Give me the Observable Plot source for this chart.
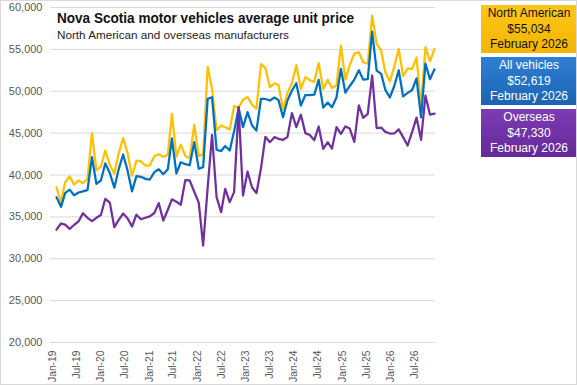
<!DOCTYPE html>
<html><head><meta charset="utf-8">
<script src="https://cdn.jsdelivr.net/npm/d3@7"></script>
<script src="https://cdn.jsdelivr.net/npm/@observablehq/plot@0.6"></script>
<style>
body{margin:0;background:#fff}
#chart{position:relative;width:577px;height:385px;overflow:hidden;background:#fff;font-family:"Liberation Sans",Arial,sans-serif;}
#chart svg{position:absolute;left:0;top:0}
#frame{position:absolute;left:0;top:0;width:577px;height:385px;box-sizing:border-box;border:1px solid #d9d9d9;pointer-events:none}
#title{position:absolute;left:57px;top:9px;font-family:"Liberation Sans",Arial,sans-serif;font-weight:bold;font-size:15.5px;color:#111;white-space:nowrap;line-height:18px;transform-origin:0 0;display:inline-block}
#subtitle{position:absolute;left:57px;top:28px;font-size:11.7px;color:#222;white-space:nowrap;line-height:13px}
.box{position:absolute;left:481px;width:96px;height:48px;text-align:center;font-size:12px;line-height:15.5px;box-sizing:border-box;padding-top:1px}
</style></head><body>
<div id="chart"></div>
<script>
// ---- data (monthly, Jan 2019 to Feb 2026) ----
const firstMonth = "2019-01-01";
const lastMonth = "2026-02-01";
const northAmerican = [38540,36750,39140,39840,38850,39340,39020,39540,45000,40580,41000,42930,41200,40140,42530,44400,42630,39900,41730,41630,41130,41150,
42230,42490,42170,42430,47300,42200,43620,42270,42010,45990,42250,42500,52900,50290,45350,45910,45700,45420,48240,48060,49000,49300,48400,47900,
53230,52770,50490,50950,50750,47840,49790,50990,53110,50290,51690,51320,51120,53350,50250,51380,50390,50690,55460,51380,53150,54510,54670,53470,53280,
59040,55660,54870,52270,51180,52880,55060,51800,52730,52650,54050,48240,55260,53600,55034];
const allVehicles = [37350,36200,37830,38250,37590,37910,38050,38190,42130,38950,39340,41380,40240,38490,40640,42450,40580,38050,39860,39780,39540,39460,
40340,40680,40100,40680,44360,40180,41530,41290,41170,43920,40740,40940,49090,49290,43020,42860,43460,42920,45210,48000,45710,47500,45910,45310,
49090,49080,48890,49250,48940,46900,48890,50090,50950,48300,49550,49550,49590,51370,48060,48640,48100,49250,52680,49830,50630,51390,52510,51390,51450,
57110,52470,52080,50190,49250,50600,52510,49380,49800,50150,51540,46870,53290,51440,52619];
const overseas = [33470,34210,34070,33570,34030,34460,35440,34890,34490,34890,35220,37160,36700,33770,34610,35400,34830,33850,35260,34710,34890,35060,
35460,36640,34570,35850,37100,36800,36450,39400,39350,38000,36700,31580,38500,44780,37350,35560,38350,36760,37950,48100,37550,40400,38500,37830,
40800,44560,43920,44520,44320,44200,44520,47400,45710,47200,45000,44780,44160,45790,43130,43920,43150,45710,44920,45800,45550,43960,48300,46830,47300,
51880,45610,45670,45150,44950,44960,45450,44520,43520,45150,46860,44200,49490,47220,47330];
const seriesNames = ["North American","All vehicles","Overseas"];
const seriesColors = ["#FFC000","#0070C0","#7030A0"];
const latestValues = ["$55,034","$52,619","$47,330"];
const latestLabel = "February 2026";
const yTicks = [20000,25000,30000,35000,40000,45000,50000,55000,60000];
const xTickLabels = ["Jan-19","Jul-19","Jan-20","Jul-20","Jan-21","Jul-21","Jan-22","Jul-22","Jan-23","Jul-23","Jan-24","Jul-24","Jan-25","Jul-25","Jan-26","Jul-26"];
const axisStart = "2018-12-16";
const axisEnd = "2026-12-07";
const titleText = "Nova Scotia motor vehicles average unit price";
const subtitleText = "North American and overseas manufacturers";

// ---- build table ----
const months = d3.utcMonth.range(new Date(firstMonth), d3.utcMonth.offset(new Date(lastMonth), 1));
const seriesValues = [northAmerican, allVehicles, overseas];
const rows = seriesNames.flatMap((name, s) => seriesValues[s].map((v, i) => ({series: name, date: months[i], value: v})));
const parseLabel = d3.utcParse("%b-%y");
const xTickDates = xTickLabels.map(parseLabel);

const chart = document.getElementById("chart");
const font = '"Liberation Sans", Arial, sans-serif';

// axes, gridlines and category labels
const axesPlot = Plot.plot({
  width: 577, height: 385,
  marginLeft: 50, marginRight: 142, marginTop: 7, marginBottom: 43,
  style: {background: "transparent", fontFamily: font, fontSize: "11px", color: "#595959", overflow: "visible"},
  x: {type: "utc", domain: [new Date(axisStart), new Date(axisEnd)]},
  y: {domain: [20000, 60000]},
  marks: [
    Plot.gridY(yTicks, {stroke: "#d9d9d9", strokeOpacity: 1, strokeWidth: 1}),
    Plot.axisY(yTicks, {tickSize: 0, tickPadding: 8, tickFormat: d3.format(","), label: null, fill: "#595959", fontSize: 11}),
    Plot.axisX(xTickDates, {tickSize: 0, tickPadding: 8, tickRotate: -90, tickFormat: d3.utcFormat("%b-%y"), label: null, fill: "#595959", fontSize: 10.3})
  ]
});
chart.appendChild(axesPlot);

// series lines
const linesPlot = Plot.plot({
  width: 577, height: 385,
  marginLeft: 56, marginRight: 143, marginTop: 7, marginBottom: 43,
  style: {background: "transparent", overflow: "visible"},
  x: {type: "utc", domain: [months[0], months[months.length - 1]], axis: null},
  y: {domain: [20000, 60000], axis: null},
  color: {domain: seriesNames, range: seriesColors},
  marks: [
    Plot.lineY(rows, {x: "date", y: "value", z: "series", stroke: "series", strokeWidth: 2.25, strokeLinejoin: "round"})
  ]
});
chart.appendChild(linesPlot);

// title and subtitle
const t = document.createElement("div"); t.id = "title"; t.textContent = titleText; chart.appendChild(t);
const tw = t.getBoundingClientRect().width;
t.style.transform = `scaleX(${297 / tw})`;
const st = document.createElement("div"); st.id = "subtitle"; st.textContent = subtitleText; chart.appendChild(st);

// latest-value boxes
const boxStyles = [
  {top: 5, bg: "linear-gradient(#FFC61A,#F2B600)", color: "#111"},
  {top: 57, bg: "linear-gradient(#2F7FD4,#1A64B4)", color: "#fff"},
  {top: 109, bg: "linear-gradient(#7C3CB4,#65289A)", color: "#fff"}
];
seriesNames.forEach((name, i) => {
  const b = document.createElement("div");
  b.className = "box";
  b.style.top = boxStyles[i].top + "px";
  b.style.background = boxStyles[i].bg;
  b.style.color = boxStyles[i].color;
  [name, latestValues[i], latestLabel].forEach(s => { const d = document.createElement("div"); d.textContent = s; b.appendChild(d); });
  chart.appendChild(b);
});
const fr = document.createElement("div"); fr.id = "frame"; chart.appendChild(fr);
</script>
</body></html>
